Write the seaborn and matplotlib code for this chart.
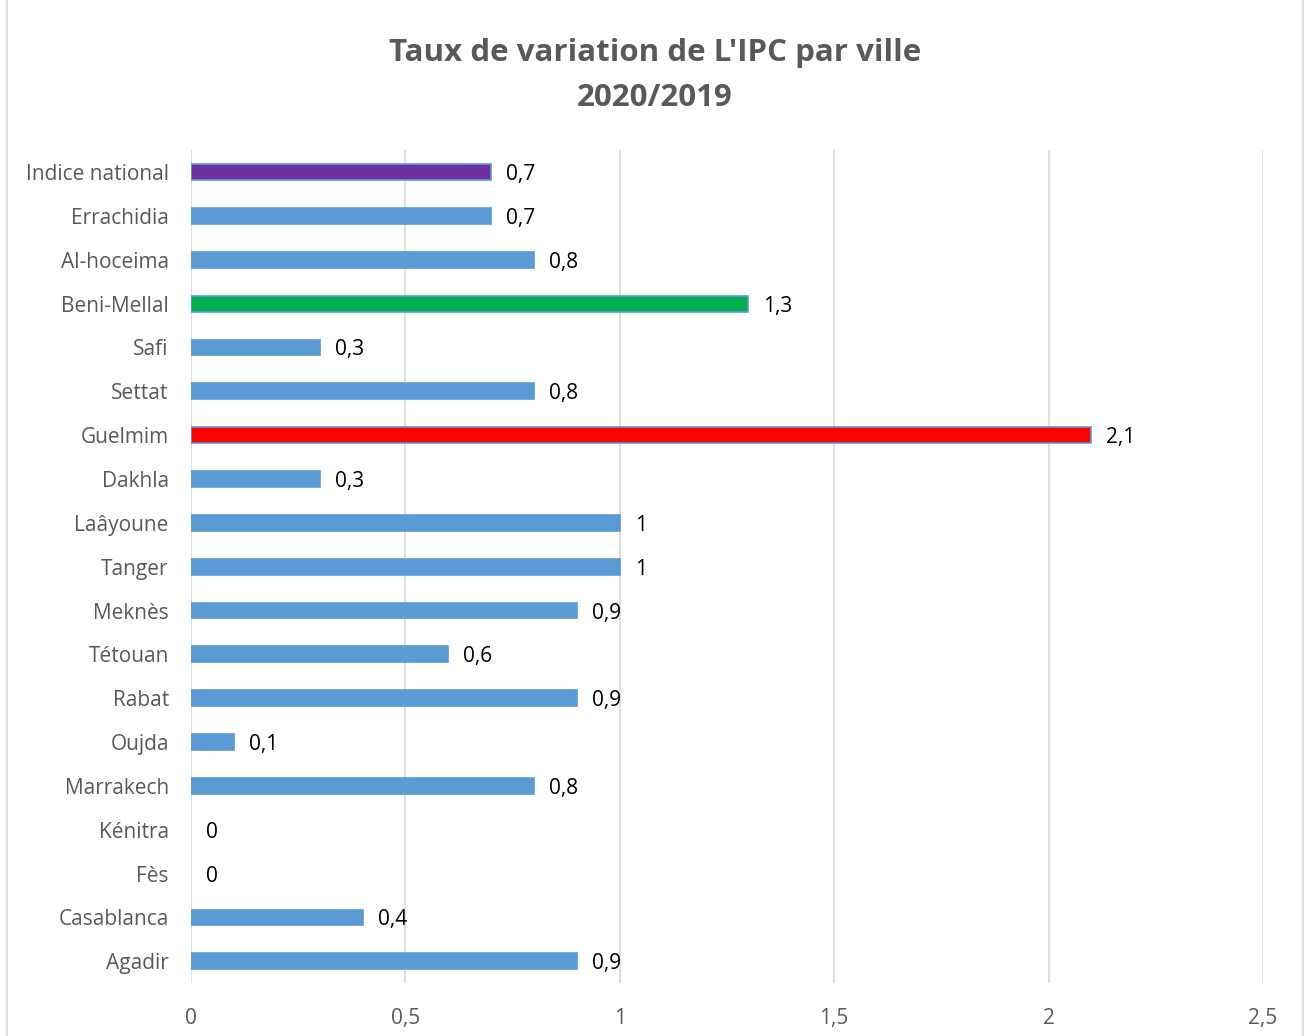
import matplotlib
matplotlib.use("Agg")
import matplotlib.pyplot as plt
import seaborn as sns
import pandas as pd
from matplotlib.patches import Rectangle

# data, top to bottom as in the chart
villes = ["Indice national", "Errachidia", "Al-hoceima", "Beni-Mellal", "Safi",
          "Settat", "Guelmim", "Dakhla", "Laâyoune", "Tanger", "Meknès",
          "Tétouan", "Rabat", "Oujda", "Marrakech", "Kénitra", "Fès",
          "Casablanca", "Agadir"]
taux = [0.7, 0.7, 0.8, 1.3, 0.3, 0.8, 2.1, 0.3, 1, 1, 0.9, 0.6, 0.9, 0.1,
        0.8, 0, 0, 0.4, 0.9]
couleurs = ["#7030A0", "#5B9BD5", "#5B9BD5", "#00B050", "#5B9BD5", "#5B9BD5",
            "#FF0000", "#5B9BD5", "#5B9BD5", "#5B9BD5", "#5B9BD5", "#5B9BD5",
            "#5B9BD5", "#5B9BD5", "#5B9BD5", "#5B9BD5", "#5B9BD5", "#5B9BD5",
            "#5B9BD5"]
xticks = [0, 0.5, 1, 1.5, 2, 2.5]

df = pd.DataFrame({"ville": villes, "taux": taux})

sns.set_style("white")
plt.rcParams["font.family"] = ["Open Sans", "DejaVu Sans"]

fig = plt.figure(figsize=(13.1, 10.36), dpi=100)
ax = fig.add_axes([0.1458, 0.051, 0.8183, 0.804])

sns.barplot(data=df, x="taux", y="ville", hue="ville", palette=couleurs,
            legend=False, width=0.36, ax=ax, edgecolor="#5B9BD5",
            linewidth=1.2, saturation=1)

# no outline on the empty bars
for p in ax.patches:
    if p.get_width() == 0:
        p.set_linewidth(0)

ax.set_xlim(0, 2.5)
ax.set_ylim(18.5, -0.5)
ax.set_xticks(xticks)
ax.set_xticklabels([str(t).replace(".", ",") for t in xticks])
ax.set_xlabel("")
ax.set_ylabel("")
ax.grid(axis="x", color="#D9D9D9", linewidth=1.2)
ax.set_axisbelow(True)
for s in ax.spines.values():
    s.set_visible(False)
ax.tick_params(axis="both", length=0, labelsize=15, colors="#595959",
               pad=18)
ax.tick_params(axis="y", pad=16)

for i, v in enumerate(taux):
    lab = ("%g" % v).replace(".", ",")
    ax.text(v + 0.035, i, lab, va="center_baseline", ha="left", fontsize=15,
            color="black")

fig.text(0.5, 0.949, "Taux de variation de L'IPC par ville", ha="center",
         va="center", fontsize=22.5, fontweight="bold", color="#595959")
fig.text(0.5, 0.905, "2020/2019", ha="center", va="center", fontsize=22.5,
         fontweight="bold", color="#595959")

fig.patches.append(Rectangle((0.005, -0.01), 0.99, 1.02,
                             transform=fig.transFigure, fill=False,
                             edgecolor="#D9D9D9", linewidth=1.2))

fig.savefig("out.png", dpi=100)
